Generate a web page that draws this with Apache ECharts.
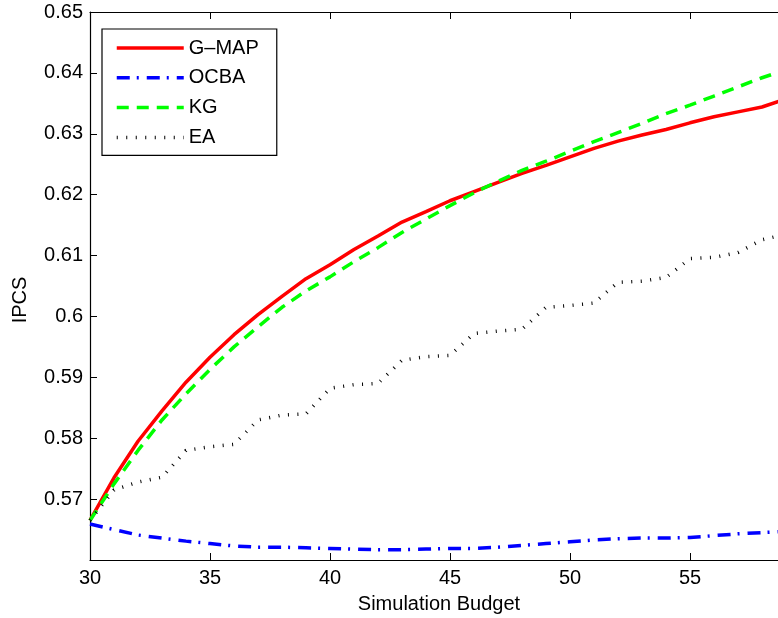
<!DOCTYPE html>
<html>
<head>
<meta charset="utf-8">
<script src="https://cdn.jsdelivr.net/npm/echarts@6/dist/echarts.min.js"></script>
<style>
html,body{margin:0;padding:0;background:#fff;}
#c{width:778px;height:618px;}
</style>
</head>
<body>
<div id="c"></div>
<script>
var budgets = [30,31,32,33,34,35,36,37,38,39,40,41,42,43,44,45,46,47,48,49,50,51,52,53,54,55,56,57,58,59,60];
var gmap = [0.5665,0.5735,0.5795,0.5845,0.5892,0.5933,0.5970,0.6003,0.6033,0.6062,0.6085,0.6110,0.6132,0.6155,0.6172,0.6190,0.6205,0.6220,0.6235,0.6248,0.6262,0.6276,0.6288,0.6298,0.6307,0.6318,0.6328,0.6336,0.6344,0.6357,0.6368];
var ocba = [0.5659,0.5650,0.5641,0.5636,0.5631,0.5627,0.5623,0.5621,0.5621,0.5620,0.5619,0.5618,0.5617,0.5617,0.5618,0.5619,0.5619,0.5621,0.5624,0.5627,0.5630,0.5633,0.5635,0.5636,0.5636,0.5637,0.5640,0.5643,0.5645,0.5647,0.5649];
var kg = [0.5665,0.5725,0.5780,0.5830,0.5873,0.5913,0.5950,0.5983,0.6015,0.6042,0.6065,0.6090,0.6113,0.6138,0.6160,0.6182,0.6203,0.6222,0.6240,0.6255,0.6271,0.6287,0.6302,0.6317,0.6333,0.6347,0.6362,0.6377,0.6392,0.6405,0.6418];
var ea = [0.5665,0.5715,0.5728,0.5736,0.5780,0.5786,0.5790,0.5830,0.5838,0.5840,0.5882,0.5888,0.5890,0.5928,0.5934,0.5936,0.5972,0.5976,0.5979,0.6015,0.6018,0.6022,0.6056,0.6058,0.6064,0.6095,0.6097,0.6105,0.6126,0.6135,0.6140];
var seriesNames = ['G\u2013MAP','OCBA','KG','EA'];
var xTitle = 'Simulation Budget';
var yTitle = 'IPCS';

function pairs(arr){ return budgets.map(function(b,i){ return [b, arr[i]]; }); }
var FONT = 'Liberation Sans, Arial, Helvetica, sans-serif';

var chart = echarts.init(document.getElementById('c'), null, {renderer:'canvas'});
var axisLine = {show:true, lineStyle:{color:'#000', width:1.2}};
var tick = {show:true, inside:true, length:7, lineStyle:{color:'#000', width:1}};
chart.setOption({
  animation:false,
  backgroundColor:'#fff',
  grid:{left:90, top:12, width:720, height:548, containLabel:false, outerBoundsMode:'none'},
  xAxis:[{
    type:'value', min:30, max:60, interval:5, position:'bottom',
    axisLine:axisLine, axisTick:tick, splitLine:{show:false},
    axisLabel:{color:'#000', fontSize:20, fontFamily:FONT, margin:8}
  },{
    type:'value', min:30, max:60, interval:5, position:'top',
    axisLine:axisLine, axisTick:tick, splitLine:{show:false}, axisLabel:{show:false}
  }],
  yAxis:[{
    type:'value', min:0.56, max:0.65, interval:0.01, position:'left',
    axisLine:axisLine, axisTick:tick, splitLine:{show:false},
    axisLabel:{color:'#000', fontSize:20, fontFamily:FONT, margin:7, showMinLabel:false,
      formatter:function(v){ return String(+v.toFixed(2)); }}
  },{
    type:'value', min:0.56, max:0.65, interval:0.01, position:'right',
    axisLine:axisLine, axisTick:tick, splitLine:{show:false}, axisLabel:{show:false}
  }],
  legend:{
    orient:'vertical', left:102, top:29,
    padding:[9,18,8,13], itemGap:9.8, itemWidth:67, itemHeight:20,
    backgroundColor:'#fff', borderColor:'#000', borderWidth:1.2, borderRadius:0,
    itemStyle:{opacity:0},
    lineStyle:{width:3.5},
    textStyle:{color:'#000', fontSize:20, fontFamily:FONT, lineHeight:20},
    data:seriesNames
  },
  graphic:[
    {type:'text', x:439, y:604, silent:true,
      style:{text:xTitle, font:'20px '+FONT, fill:'#000', textAlign:'center', textVerticalAlign:'middle', verticalAlign:'middle'}},
    {type:'text', x:20, y:300, rotation:Math.PI/2, silent:true,
      style:{text:yTitle, font:'20px '+FONT, fill:'#000', textAlign:'center', textVerticalAlign:'middle', verticalAlign:'middle'}}
  ],
  series:[
    {name:seriesNames[0], type:'line', data:pairs(gmap), symbol:'none', clip:true,
      lineStyle:{color:'#ff0000', width:3.5, type:'solid'}, itemStyle:{color:'#ff0000'}},
    {name:seriesNames[1], type:'line', data:pairs(ocba), symbol:'none', clip:true,
      lineStyle:{color:'#0000ff', width:3.5, type:[13,7,2,8]}, itemStyle:{color:'#0000ff'}},
    {name:seriesNames[2], type:'line', data:pairs(kg), symbol:'none', clip:true,
      lineStyle:{color:'#00ff00', width:3.5, type:[12,8]}, itemStyle:{color:'#00ff00'}},
    {name:seriesNames[3], type:'line', data:pairs(ea), symbol:'none', clip:true,
      lineStyle:{color:'#000000', width:3.5, type:[1,8.5], cap:'butt'}, itemStyle:{color:'#000000'}}
  ]
});
</script>
</body>
</html>
